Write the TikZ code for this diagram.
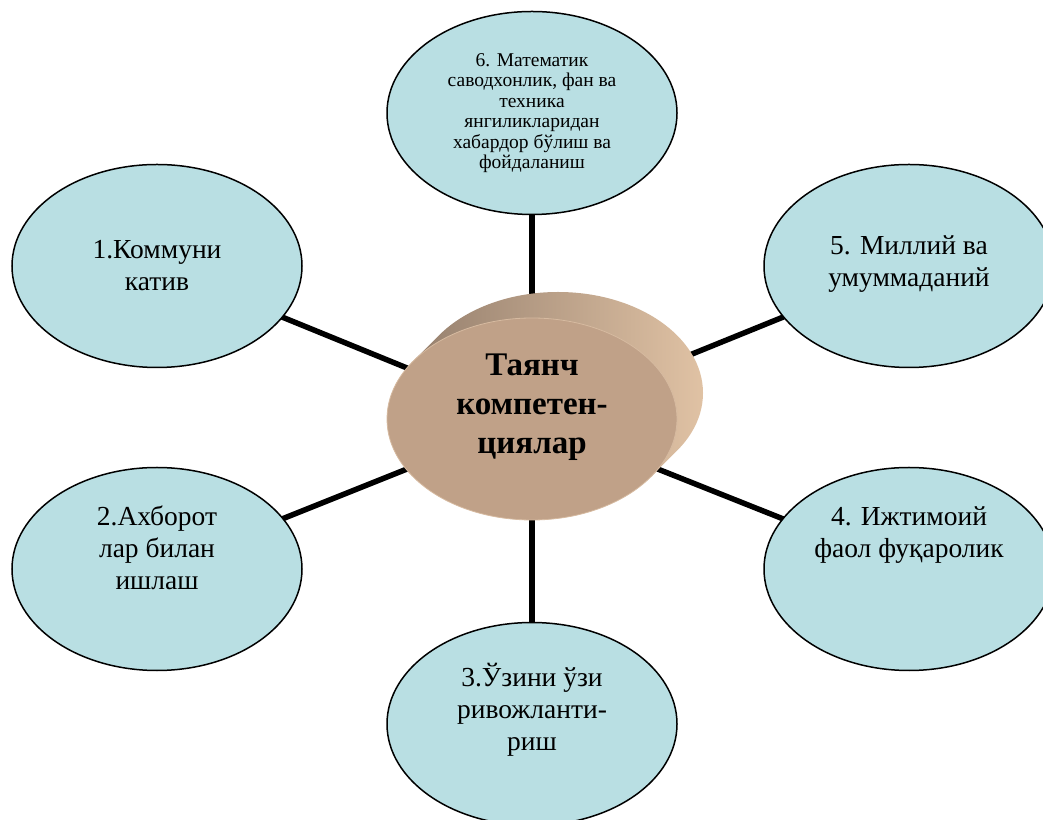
\documentclass[tikz,border=0pt]{standalone}
\usepackage{fontspec}
\setmainfont{Liberation Serif}
\usetikzlibrary{shapes.geometric,backgrounds,calc}
\definecolor{aqua}{RGB}{185,223,227}
\definecolor{tanface}{RGB}{192,161,136}
\definecolor{tanedge}{RGB}{214,186,160}
\definecolor{tandark}{RGB}{150,128,110}
\definecolor{tanlight}{RGB}{224,194,164}

\begin{document}
\begin{tikzpicture}
    [
        x=1pt, y=1pt,
        competence/.style={
            ellipse, draw=black, line width=1.5pt, fill=aqua,
            minimum width=290pt, minimum height=203pt, inner sep=0pt
        },
        core/.style={
            ellipse, fill=tanface, draw=tanedge, line width=0.8pt,
            minimum width=290pt, minimum height=202pt, inner sep=0pt
        },
        caption/.style={align=center, font=\fontsize{27.5}{32}\selectfont},
        link/.style={line width=5.5pt, black}
    ]
    \useasboundingbox (0,0) rectangle (1043,819);

    % cylinder in the middle
    \coordinate (c) at (532,400);
    \shade[left color=tandark, right color=tanlight]
        ($(c)+(26,26)$) ellipse [x radius=145, y radius=101]
        ($(c)+(118.9,-57.7)$) -- ++(26,26) -- ($(c)+(-92.9,83.7)$)
        -- ++(-26,-26) -- cycle;
    \node[core] (kern) at (c) {};
    \node[align=center, font=\fontsize{33}{39}\selectfont\bfseries, yshift=12]
        (kerntext) at (kern) {Таянч\\компетен-\\циялар};

    \node[competence] (k1) at (157,553) {};
    \node[caption] (k1text) at (k1) {1.Коммуни\\катив};

    \node[competence] (k2) at (157,250) {};
    \node[caption, yshift=21] (k2text) at (k2) {2.Ахборот\\лар билан\\ишлаш};

    \node[competence] (k3) at (532,95) {};
    \node[caption, yshift=14] (k3text) at (k3) {3.Ўзини ўзи\\ривожланти-\\риш};

    \node[competence] (k4) at (909,250) {};
    \node[caption, yshift=34] (k4text) at (k4) {4. Ижтимоий\\фаол фуқаролик};

    \node[competence] (k5) at (909,553) {};
    \node[caption, yshift=2] (k5text) at (k5) {5. Миллий ва\\умуммаданий};

    \node[competence] (k6) at (532,706) {};
    \node[caption, font=\fontsize{19.5}{20.5}\selectfont] (k6text) at (k6)
        {6. Математик\\саводхонлик, фан ва\\техника\\янгиликларидан\\хабардор бўлиш ва\\фойдаланиш};

    \begin{scope}[on background layer]
        \foreach \k in {1,...,6}
            \draw[link] (kern.center) -- (k\k.center);
    \end{scope}
\end{tikzpicture}
\end{document}
